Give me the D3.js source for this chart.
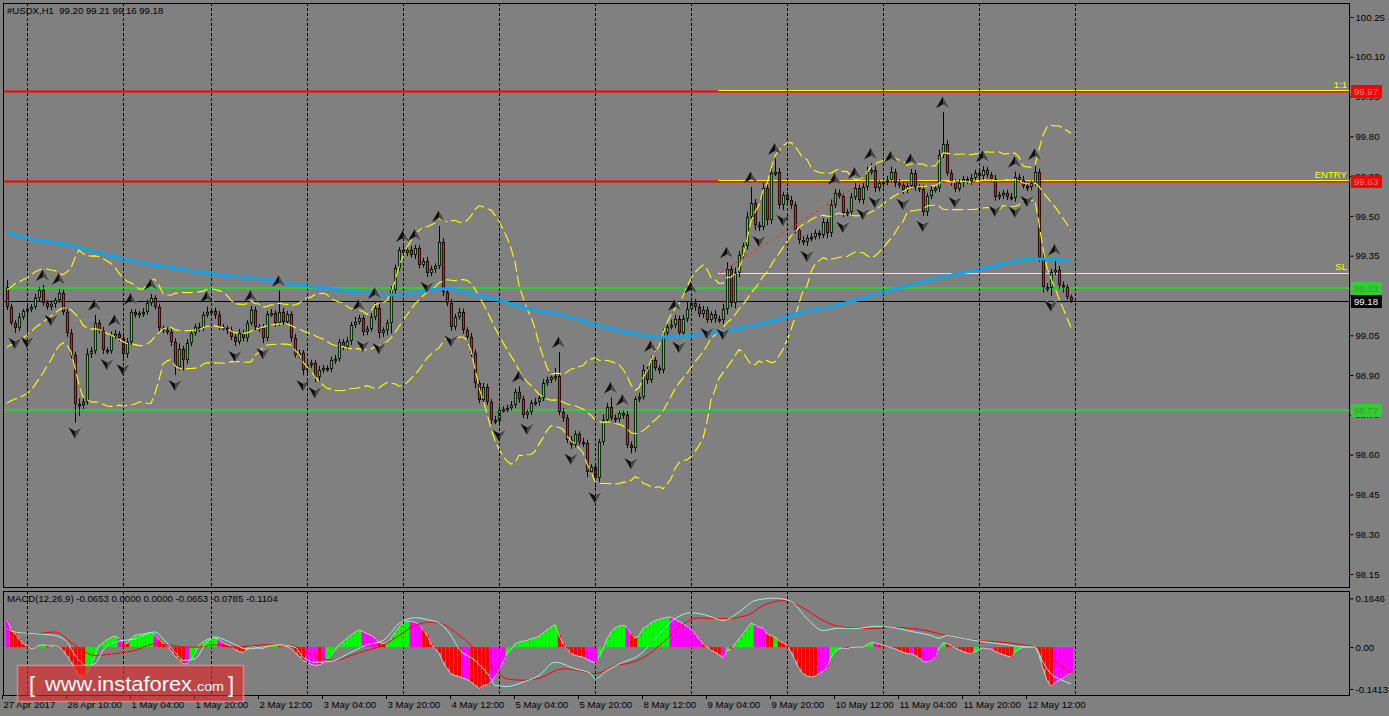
<!DOCTYPE html>
<html><head><meta charset="utf-8">
<script src="https://cdn.jsdelivr.net/npm/d3@7"></script>
<style>
html,body{margin:0;padding:0;background:#808080;overflow:hidden;}
svg{display:block;}
text{font-family:"Liberation Sans",Arial,sans-serif;}
</style></head><body>
<svg id="c" width="1389" height="716"></svg>
<script>
// ---------------- DATA ----------------
const symbolTitle = "#USDX,H1  99.20 99.21 99.16 99.18";
const macdTitle = "MACD(12,26,9) -0.0653 0.0000 0.0000 -0.0653 -0.0785 -0.1104";
const firstOpen = 99.232;
const closes = [
99.157,99.097,99.078,99.119,99.142,99.149,99.157,99.191,99.221,99.172,
99.157,99.168,99.183,99.210,99.138,99.059,98.976,98.791,98.787,98.799,
98.980,98.991,99.097,99.067,98.995,98.991,99.052,99.055,99.040,98.980,
99.025,99.138,99.127,99.134,99.138,99.172,99.191,99.157,99.078,99.070,
99.063,99.025,98.930,98.999,98.957,99.021,99.059,99.082,99.078,99.127,
99.138,99.142,99.127,99.082,99.078,99.070,99.044,99.025,99.059,99.040,
99.097,99.146,99.082,99.078,99.040,99.130,99.134,99.097,99.138,99.100,
99.130,99.040,98.976,98.984,98.919,98.938,98.946,98.893,98.919,98.927,
98.923,98.957,98.961,99.025,99.006,99.029,99.089,99.100,99.115,99.063,
99.074,99.119,99.153,99.059,99.070,99.097,99.221,99.304,99.372,99.361,
99.372,99.353,99.379,99.315,99.330,99.285,99.300,99.311,99.402,99.213,
99.172,99.082,99.119,99.138,99.070,99.044,98.984,98.870,98.806,98.855,
98.799,98.731,98.727,98.769,98.772,98.776,98.787,98.837,98.810,98.750,
98.761,98.795,98.799,98.814,98.870,98.882,98.893,98.897,98.761,98.739,
98.656,98.637,98.678,98.648,98.644,98.535,98.554,98.512,98.648,98.731,
98.780,98.739,98.735,98.757,98.750,98.637,98.625,98.810,98.818,98.919,
98.882,98.957,98.927,98.919,99.059,99.082,99.089,99.112,99.059,99.112,
99.149,99.172,99.157,99.130,99.146,99.108,99.130,99.112,99.108,99.149,
99.300,99.172,99.285,99.353,99.387,99.496,99.549,99.466,99.458,99.605,
99.485,99.662,99.666,99.542,99.579,99.560,99.542,99.447,99.409,99.402,
99.417,99.421,99.436,99.428,99.477,99.436,99.542,99.587,99.575,99.511,
99.515,99.572,99.605,99.560,99.609,99.666,99.673,99.605,99.624,99.628,
99.636,99.666,99.624,99.617,99.598,99.613,99.662,99.609,99.602,99.515,
99.575,99.598,99.605,99.730,99.771,99.662,99.628,99.602,99.624,99.639,
99.632,99.643,99.662,99.651,99.673,99.655,99.639,99.572,99.579,99.587,
99.572,99.568,99.647,99.636,99.613,99.609,99.624,99.666,99.342,99.232,
99.229,99.289,99.296,99.240,99.232,99.195,99.180];
const wickUp = [
.026,.012,.010,.015,.008,.012,.010,.015,.011,.019,
.010,.012,.008,.015,.012,.010,.015,.012,.020,.015,
.020,.015,.030,.012,.015,.010,.012,.015,.010,.020,
.015,.012,.010,.008,.015,.012,.015,.010,.012,.008,
.010,.012,.015,.020,.012,.015,.010,.012,.015,.012,
.020,.010,.012,.015,.010,.008,.012,.010,.015,.012,
.010,.015,.012,.010,.015,.012,.015,.010,.080,.015,
.012,.010,.015,.012,.010,.015,.012,.010,.015,.012,
.010,.012,.015,.012,.010,.015,.012,.020,.012,.010,
.012,.015,.020,.015,.010,.012,.015,.012,.010,.015,
.012,.015,.012,.010,.012,.015,.012,.010,.060,.015,
.012,.015,.012,.015,.012,.010,.015,.012,.010,.015,
.012,.010,.015,.012,.010,.012,.015,.012,.020,.012,
.010,.012,.015,.012,.015,.012,.010,.030,.090,.015,
.012,.015,.012,.010,.015,.012,.010,.015,.012,.020,
.015,.035,.012,.010,.012,.015,.012,.010,.015,.020,
.012,.015,.012,.010,.015,.012,.020,.015,.012,.015,
.030,.020,.015,.012,.015,.012,.010,.015,.012,.020,
.025,.015,.020,.015,.012,.020,.060,.015,.012,.020,
.015,.020,.050,.015,.012,.010,.015,.012,.010,.015,
.012,.015,.012,.010,.015,.012,.020,.015,.012,.010,
.012,.015,.020,.012,.015,.020,.025,.015,.012,.010,
.015,.020,.012,.015,.010,.012,.015,.012,.010,.015,
.012,.015,.010,.020,.120,.015,.012,.010,.015,.012,
.010,.015,.012,.010,.015,.012,.010,.015,.012,.010,
.012,.015,.020,.012,.015,.012,.010,.030,.012,.020,
.015,.012,.040,.015,.012,.010,.008];
const wickDown = [
.012,.010,.019,.012,.010,.080,.012,.010,.015,.012,
.010,.012,.015,.010,.012,.015,.012,.070,.040,.015,
.010,.015,.012,.010,.015,.012,.010,.015,.012,.020,
.015,.012,.010,.012,.015,.010,.012,.010,.015,.012,
.010,.015,.030,.012,.040,.015,.012,.010,.015,.012,
.010,.012,.015,.012,.010,.015,.012,.015,.010,.012,
.015,.010,.012,.015,.020,.012,.010,.015,.012,.010,
.012,.015,.010,.012,.020,.015,.012,.020,.015,.012,
.010,.012,.015,.010,.012,.010,.015,.012,.010,.015,
.012,.010,.012,.020,.015,.020,.040,.015,.012,.010,
.012,.010,.015,.012,.010,.015,.012,.015,.012,.015,
.012,.015,.012,.010,.015,.012,.015,.020,.012,.015,
.012,.015,.012,.015,.010,.012,.010,.012,.015,.012,
.015,.012,.010,.015,.012,.010,.012,.015,.012,.015,
.012,.015,.010,.012,.015,.020,.012,.035,.015,.012,
.012,.010,.015,.012,.015,.012,.020,.015,.012,.010,
.015,.012,.010,.015,.012,.015,.010,.012,.015,.012,
.012,.010,.015,.012,.015,.012,.010,.015,.012,.015,
.020,.015,.020,.015,.012,.015,.012,.020,.015,.012,
.020,.015,.012,.015,.020,.012,.015,.012,.015,.012,
.015,.012,.010,.015,.012,.020,.015,.012,.010,.015,
.012,.015,.012,.010,.015,.012,.010,.015,.012,.015,
.012,.010,.015,.012,.015,.012,.010,.015,.012,.015,
.015,.012,.010,.015,.012,.010,.015,.012,.010,.015,
.012,.015,.010,.012,.015,.012,.010,.015,.012,.015,
.012,.010,.015,.012,.010,.015,.012,.010,.015,.020,
.015,.030,.012,.015,.020,.010,.008];
// Bollinger band values of the first 19 bars (history before the visible window)
const bbHeadUpper = [99.221,99.232,99.244,99.251,99.259,99.266,99.278,99.289,99.296,99.300,99.300,99.296,99.293,99.285,99.278,99.289,99.304,99.342,99.372];
const bbHeadMid   = [99.006,99.014,99.021,99.029,99.040,99.051,99.063,99.078,99.089,99.100,99.112,99.123,99.134,99.146,99.153,99.153,99.146,99.131,99.115];
const bbHeadLower = [98.795,98.803,98.810,98.814,98.822,98.829,98.844,98.863,98.886,98.908,98.935,98.957,98.987,99.010,99.021,99.014,98.987,98.927,98.863];
// long moving average (blue)
const maIdx = [0,6,15,23,31,40,48,56,65,73,81,90,98,102,106,110,115,123,131,139,148,156,164,173,178,185,194,198,206,215,223,231,240,248,256,260,266];
const maVal = [99.436,99.413,99.391,99.360,99.330,99.308,99.289,99.274,99.259,99.240,99.225,99.210,99.202,99.210,99.221,99.225,99.210,99.183,99.146,99.127,99.085,99.059,99.044,99.052,99.063,99.082,99.115,99.134,99.157,99.195,99.229,99.259,99.289,99.315,99.338,99.338,99.330];
// MACD panel
const hist = [
.090,.062,.045,.028,.012,.004,-.005,-.003,.006,.008,
.005,.004,.004,.002,-.012,-.030,-.050,-.075,-.095,-.100,
-.085,-.060,-.030,.005,.015,.025,.033,.037,.030,.015,
.012,.030,.040,.042,.044,.047,.050,.040,.025,.012,
.004,-.012,-.030,-.045,-.055,-.057,-.042,-.020,.006,.018,
.025,.030,.032,.024,.014,.008,.004,-.008,-.015,-.018,
-.008,.002,.001,-.004,-.006,.002,.005,.006,.006,.004,
.002,-.005,-.018,-.030,-.045,-.052,-.058,-.062,-.060,-.055,
-.040,-.028,-.010,.008,.018,.030,.040,.050,.058,.052,
.045,.040,.030,.015,.012,.015,.030,.050,.068,.080,
.088,.087,.084,.075,.058,.040,.010,-.006,-.020,-.050,
-.073,-.090,-.096,-.100,-.105,-.109,-.118,-.129,-.140,-.129,
-.127,-.118,-.100,-.079,-.050,-.022,-.008,.011,.017,.020,
.022,.028,.031,.037,.047,.058,.067,.075,.039,.011,
-.008,-.022,-.028,-.031,-.034,-.042,-.048,-.053,-.034,-.006,
.028,.051,.064,.071,.074,.067,.045,.030,.039,.062,
.071,.082,.089,.093,.097,.101,.101,.093,.087,.079,
.071,.060,.045,.028,.011,.000,-.011,-.017,-.026,-.037,
-.011,-.008,.011,.028,.045,.062,.081,.075,.067,.064,
.045,.039,.034,.022,.015,.006,-.017,-.045,-.073,-.090,
-.098,-.101,-.098,-.090,-.082,-.067,-.034,-.015,-.006,-.003,
-.006,-.001,-.001,.000,.000,.008,.015,.015,.010,.006,
.003,-.002,-.006,-.012,-.017,-.022,-.022,-.028,-.037,-.048,
-.051,-.045,-.034,-.005,.014,.012,.006,-.003,-.009,-.015,
-.020,-.022,-.015,-.008,-.003,-.006,-.006,-.015,-.020,-.026,
-.030,-.034,-.017,-.006,-.001,.000,.000,.001,-.028,-.073,
-.112,-.132,-.120,-.112,-.105,-.096,-.087];
// histogram state per bar: g = rising, r = falling, m = turning
const histState = (
"mrrrrrmrgg"+"rgrrrrrrrr"+"ggggggggmr"+"rggggggmrr"+"rrrrrmgggg"+
"gggmrrrrrr"+"grrrrgggrr"+"rrrrrmmmrm"+"gggggggggm"+"mmmrrggggg"+
"gmmmrrrrrr"+"rrrrmmrrrr"+"rmmmmggggg"+"ggggggggrr"+"rrrrrmmmgg"+
"gggggmrrgg"+"ggggggmmmm"+"mmmmrrrrrm"+"grgggggmmm"+"rrgrrrrrrr"+
"rrrmmmgggr"+"rrrrrggmrr"+"rrrrrrmrrm"+"mmmggrrrrr"+"rrggmmmrrr"+
"rrgggrrrrr"+"rrmmmmm").split("");
const cyanIdx = [0,2,7,12,15,17,20,22,24,27,32,37,39,42,44,47,50,52,56,60,64,68,72,74,77,81,86,90,94,98,102,106,108,111,113,117,121,122,125,129,133,137,142,146,147,150,154,158,162,167,171,175,179,183,187,192,196,200,204,208,212,217,221,226,231,233,235,237,242,246,250,253,257,259,261,263,266];
const cyanVal = [.062,.051,.045,.039,.017,-.028,-.062,-.056,-.011,.017,.028,.051,.028,-.017,-.045,-.039,.017,.034,.015,-.006,0,.008,0,-.034,-.051,-.048,-.017,.008,.022,.079,.099,.090,.082,.039,-.006,-.045,-.107,-.129,-.133,-.118,-.096,-.051,-.073,-.090,-.107,-.079,-.051,-.028,.028,.096,.116,.107,.090,.118,.157,.165,.154,.096,.056,.064,.062,.070,.067,.053,.039,.030,.039,.034,.022,.015,.008,.002,0,-.051,-.090,-.107,-.124];
const redIdx = [0,7,12,17,22,27,32,37,40,45,48,52,57,65,71,75,79,82,86,90,94,98,102,106,108,112,117,121,125,129,133,139,143,147,152,156,160,165,168,173,179,185,189,194,197,200,204,207,212,217,221,227,235,239,243,250,256,257,262,266];
const redVal = [.056,.045,.051,.006,-.028,-.022,-.011,.011,.008,0,0,.008,0,.008,.006,-.017,-.039,-.045,-.028,-.011,.006,.039,.073,.084,.082,.051,-.006,-.062,-.107,-.112,-.105,-.073,-.079,-.090,-.062,-.053,-.028,.028,.067,.098,.096,.107,.140,.157,.146,.124,.090,.073,.064,.062,.067,.062,.039,.028,.022,.015,.003,0,-.048,-.087];
// levels and objects
const redLevels = [99.97, 99.63];
const greenLevels = [99.23, 98.77];
const slLevel = 99.285;
const lastPrice = 99.18;
const tradeStartIdx = 177.75;
const tradeLabels = [{t:"1:1",p:99.97},{t:"ENTRY",p:99.63},{t:"SL",p:99.285}];
const trendLine = [{i:178.25,p:99.285},{i:212.5,p:99.613}];
const priceTicks = [100.25,100.10,99.95,99.80,99.65,99.50,99.35,99.20,99.05,98.90,98.75,98.60,98.45,98.30,98.15];
const macdTicks = [0.1646, 0.00, -0.1413];
const macdTickLabels = ["0.1646","0.00","-0.1413"];
const gridIdx = [5,29,51,75,99,123,147,171,195,219,243,267];
const timeIdx = [0,16,32,48,64,80,96,112,128,144,160,176,192,208,224,240,256];
const timeLabels = ["27 Apr 2017","28 Apr 10:00","1 May 04:00","1 May 20:00","2 May 12:00","3 May 04:00","3 May 20:00","4 May 12:00","5 May 04:00","5 May 20:00","8 May 12:00","9 May 04:00","9 May 20:00","10 May 12:00","11 May 04:00","11 May 20:00","12 May 12:00"];

// ---------------- DRAW ----------------
const FS = "9.6px";
const svg = d3.select("#c");
const L = 3, R = 1349, mainTop = 3, mainBot = 587, macdTop = 591, macdBot = 695;
const n = closes.length;
const x = d3.scaleLinear().domain([0, 266]).range([7, 1071]);
const y = d3.scaleLinear().domain([98.15, 100.25]).range([574, 17]);
const ym = d3.scaleLinear().domain([-0.1413, 0.1646]).range([689, 598.3]);

svg.append("rect").attr("width",1389).attr("height",716).attr("fill","#808080");
const defs = svg.append("defs");
defs.append("clipPath").attr("id","cm").append("rect").attr("x",L+1).attr("y",mainTop+1).attr("width",R-L-1).attr("height",mainBot-mainTop-1);
defs.append("clipPath").attr("id","cd").append("rect").attr("x",L+1).attr("y",macdTop+1).attr("width",R-L-1).attr("height",macdBot-macdTop-1);

const gm = svg.append("g").attr("clip-path","url(#cm)");
const gd = svg.append("g").attr("clip-path","url(#cd)");

// grid
gridIdx.forEach(gi=>{
  const gx = Math.round(x(gi))+0.5;
  [[mainTop,mainBot],[macdTop,macdBot]].forEach(([a,b])=>{
    svg.append("line").attr("x1",gx).attr("x2",gx).attr("y1",a).attr("y2",b)
      .attr("stroke","#000").attr("stroke-dasharray","3,2").attr("stroke-width",1);
  });
});

// horizontal levels (background objects)
greenLevels.forEach(p=>{
  gm.append("line").attr("x1",L).attr("x2",R).attr("y1",Math.round(y(p))).attr("y2",Math.round(y(p)))
    .attr("stroke","#32cd32").attr("stroke-width",2);
});
redLevels.forEach(p=>{
  const yy = Math.round(y(p));
  gm.append("line").attr("x1",L).attr("x2",R).attr("y1",yy+0.5).attr("y2",yy+0.5)
    .attr("stroke","#ff0000").attr("stroke-width",2);
  gm.append("line").attr("x1",x(tradeStartIdx)).attr("x2",R).attr("y1",yy-0.5).attr("y2",yy-0.5)
    .attr("stroke","#ffff00").attr("stroke-width",1);
});
gm.append("line").attr("x1",x(tradeStartIdx)).attr("x2",R).attr("y1",Math.round(y(slLevel))+0.5).attr("y2",Math.round(y(slLevel))+0.5)
  .attr("stroke","#f4f46a").attr("stroke-width",1);
gm.append("line").attr("x1",L).attr("x2",R).attr("y1",Math.round(y(lastPrice))+0.5).attr("y2",Math.round(y(lastPrice))+0.5)
  .attr("stroke","#000").attr("stroke-width",1);

// candles
const bars = closes.map((c,i)=>{
  const o = i===0 ? firstOpen : closes[i-1];
  const hi = Math.max(o,c) + wickUp[i];
  const lo = Math.min(o,c) - wickDown[i];
  return {i,o,c,hi,lo};
});
const gc = gm.append("g");
bars.forEach(b=>{
  const cx = Math.round(x(b.i))+0.5;
  const doji = Math.abs(b.o-b.c) < 0.0015;
  gc.append("line").attr("x1",cx).attr("x2",cx).attr("y1",y(b.hi)).attr("y2",y(b.lo))
    .attr("stroke", doji ? "#00ff00" : "#000").attr("stroke-width",1);
  if (doji) {
    gc.append("line").attr("x1",cx-1.5).attr("x2",cx+1.5).attr("y1",Math.round(y(b.c))+0.5).attr("y2",Math.round(y(b.c))+0.5)
      .attr("stroke","#00ff00").attr("stroke-width",1);
  } else {
    const top = y(Math.max(b.o,b.c)), bot = y(Math.min(b.o,b.c));
    const h = Math.max(1.6, bot-top-0.8);
    gc.append("rect").attr("x",cx-1.15).attr("y",top+0.4).attr("width",2.3).attr("height",h)
      .attr("fill", b.c>b.o ? "#10f010" : "#ff1010").attr("stroke","#000").attr("stroke-width",0.8);
  }
});

// Bollinger bands
const bb = closes.map((c,i)=>{
  if (i < bbHeadMid.length) return {u:bbHeadUpper[i], m:bbHeadMid[i], l:bbHeadLower[i]};
  const w = closes.slice(i-19,i+1);
  const m = d3.mean(w);
  const sd = Math.sqrt(d3.mean(w, v=>(v-m)*(v-m)));
  return {u:m+2*sd, m, l:m-2*sd};
});
["u","m","l"].forEach(k=>{
  gm.append("path").datum(bb).attr("fill","none").attr("stroke","#ffff00").attr("stroke-width",1.1)
    .attr("stroke-dasharray","11,4")
    .attr("d", d3.line().x((d,i)=>x(i)).y(d=>y(d[k])));
});

// moving average
gm.append("path").datum(maIdx.map((v,k)=>({i:v,p:maVal[k]}))).attr("fill","none")
  .attr("stroke","#12a4ea").attr("stroke-width",3)
  .attr("d", d3.line().x(d=>x(d.i)).y(d=>y(d.p)).curve(d3.curveMonotoneX));

// trend line (red dotted)
gm.append("path").datum(trendLine).attr("fill","none").attr("stroke","#ff2020").attr("stroke-width",1)
  .attr("stroke-dasharray","3,3").attr("d", d3.line().x(d=>x(d.i)).y(d=>y(d.p)));

// fractals
const gf = gm.append("g");
function upArrow(cx, by){
  gf.append("path").attr("d",`M${cx},${by-12}L${cx-7},${by}L${cx},${by-4}Z`).attr("fill","#101010");
  gf.append("path").attr("d",`M${cx},${by-12}L${cx+7},${by}L${cx},${by-4}Z`).attr("fill","#4a4a4a");
  gf.append("path").attr("d",`M${cx},${by-12}L${cx+7},${by}`).attr("stroke","#9a9a9a").attr("stroke-width",0.8).attr("fill","none");
}
function downArrow(cx, ty){
  gf.append("path").attr("d",`M${cx},${ty+12}L${cx-7},${ty}L${cx},${ty+4}Z`).attr("fill","#101010");
  gf.append("path").attr("d",`M${cx},${ty+12}L${cx+7},${ty}L${cx},${ty+4}Z`).attr("fill","#4a4a4a");
  gf.append("path").attr("d",`M${cx-7},${ty}L${cx},${ty+4}L${cx+7},${ty}`).attr("stroke","#9a9a9a").attr("stroke-width",0.8).attr("fill","none");
}
for (let i=2;i<n-2;i++){
  const h = bars[i].hi, l = bars[i].lo;
  if (h>bars[i-1].hi && h>bars[i-2].hi && h>=bars[i+1].hi && h>=bars[i+2].hi) upArrow(x(bars[i].i), y(h)-4);
  if (l<bars[i-1].lo && l<bars[i-2].lo && l<=bars[i+1].lo && l<=bars[i+2].lo) downArrow(x(bars[i].i), y(l)+4);
}

// trade labels
tradeLabels.forEach(t=>{
  svg.append("text").attr("x",R-2).attr("y",Math.round(y(t.p))-3).attr("text-anchor","end")
    .attr("fill","#ffff00").attr("font-size",FS).text(t.t);
});

// MACD histogram
const stateColor = {g:"#00ff00", r:"#ff0000", m:"#ff00ff"};
const z0 = ym(0);
hist.forEach((v,i)=>{
  const cx = Math.round(x(i))+0.5;
  const yy = ym(v);
  gd.append("rect").attr("x",cx-1.5).attr("width",3).attr("y",Math.min(yy,z0)).attr("height",Math.abs(yy-z0))
    .attr("fill", stateColor[histState[i]]);
});
gd.append("path").datum(hist).attr("fill","none").attr("stroke","#c8c8c8").attr("stroke-width",1)
  .attr("d", d3.line().x((d,i)=>x(i)).y(d=>ym(d)));
gd.append("path").datum(redIdx.map((v,k)=>({i:v,p:redVal[k]}))).attr("fill","none").attr("stroke","#ff0000").attr("stroke-width",1)
  .attr("d", d3.line().x(d=>x(d.i)).y(d=>ym(d.p)).curve(d3.curveMonotoneX));
gd.append("path").datum(cyanIdx.map((v,k)=>({i:v,p:cyanVal[k]}))).attr("fill","none").attr("stroke","#8ff5df").attr("stroke-width",1)
  .attr("d", d3.line().x(d=>x(d.i)).y(d=>ym(d.p)).curve(d3.curveMonotoneX));

// frames
svg.append("rect").attr("x",L+0.5).attr("y",mainTop+0.5).attr("width",R-L).attr("height",mainBot-mainTop)
  .attr("fill","none").attr("stroke","#000");
svg.append("rect").attr("x",L+0.5).attr("y",macdTop+0.5).attr("width",R-L).attr("height",macdBot-macdTop)
  .attr("fill","none").attr("stroke","#000");

// price axis
const ax = svg.append("g").attr("transform",`translate(${R+0.5},0)`)
  .call(d3.axisRight(y).tickValues(priceTicks).tickFormat(d3.format(".2f")).tickSize(4).tickPadding(2));
ax.select(".domain").remove();
ax.selectAll("line").attr("stroke","#000");
ax.selectAll("text").attr("fill","#000").attr("font-size",FS).attr("font-family","Liberation Sans, Arial, sans-serif");

const axm = svg.append("g").attr("transform",`translate(${R+0.5},0)`)
  .call(d3.axisRight(ym).tickValues(macdTicks).tickFormat((d,i)=>macdTickLabels[i]).tickSize(4).tickPadding(2));
axm.select(".domain").remove();
axm.selectAll("line").attr("stroke","#000");
axm.selectAll("text").attr("fill","#000").attr("font-size",FS).attr("font-family","Liberation Sans, Arial, sans-serif");

// price boxes on the axis
function priceBox(p, bg, fg){
  const yy = Math.round(y(p));
  svg.append("rect").attr("x",R+2).attr("y",yy-6).attr("width",31).attr("height",13).attr("fill",bg);
  svg.append("text").attr("x",R+5).attr("y",yy+4).attr("fill",fg).attr("font-size",FS).text(d3.format(".2f")(p));
}
redLevels.forEach(p=>priceBox(p,"#ff0000","#ff8c8c"));
greenLevels.forEach(p=>priceBox(p,"#32cd32","#3a9a3a"));
priceBox(lastPrice,"#000","#fff");

// time axis
timeIdx.forEach((ti,k)=>{
  const tx = Math.round(x(ti)) - 4.5;
  svg.append("line").attr("x1",tx).attr("x2",tx).attr("y1",macdBot).attr("y2",macdBot+4).attr("stroke","#000");
  svg.append("text").attr("x",tx+1).attr("y",708).attr("fill","#000").attr("font-size",FS).text(timeLabels[k]);
});

// titles
svg.append("text").attr("x",7).attr("y",14).attr("fill","#000").attr("font-size",FS).attr("xml:space","preserve").text(symbolTitle);
svg.append("text").attr("x",7).attr("y",602).attr("fill","#000").attr("font-size",FS).text(macdTitle);

// watermark
const wm = svg.append("g");
wm.append("rect").attr("x",17.5).attr("y",665.5).attr("width",226).attr("height",36)
  .attr("fill","rgba(222,40,40,0.66)").attr("stroke","rgba(245,150,150,0.7)").attr("stroke-width",1.5);
wm.append("text").attr("x",29).attr("y",692).attr("fill","#fff").attr("font-size","22px").attr("font-family","DejaVu Sans, sans-serif").text("[");
wm.append("text").attr("x",45).attr("y",691).attr("fill","#fff").attr("font-size","21px").attr("font-family","DejaVu Sans, sans-serif")
  .attr("textLength",147).attr("lengthAdjust","spacingAndGlyphs").text("www.instaforex");
wm.append("text").attr("x",193).attr("y",691).attr("fill","#fff").attr("font-size","13px").attr("font-family","DejaVu Sans, sans-serif")
  .attr("textLength",31).attr("lengthAdjust","spacingAndGlyphs").text(".com");
wm.append("text").attr("x",228).attr("y",692).attr("fill","#fff").attr("font-size","22px").attr("font-family","DejaVu Sans, sans-serif").text("]");
</script></body></html>
